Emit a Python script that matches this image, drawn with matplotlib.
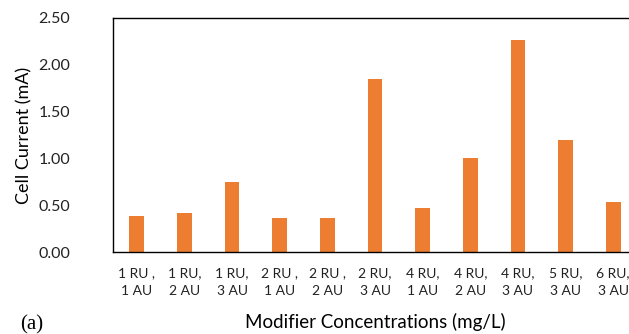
import numpy as np
import matplotlib.pyplot as plt

labels = ["1 RU ,\n1 AU", "1 RU,\n2 AU", "1 RU,\n3 AU", "2 RU ,\n1 AU", "2 RU ,\n2 AU",
          "2 RU,\n3 AU", "4 RU,\n1 AU", "4 RU,\n2 AU", "4 RU,\n3 AU", "5 RU,\n3 AU",
          "6 RU,\n3 AU"]
current = [0.38, 0.42, 0.75, 0.36, 0.36, 1.85, 0.47, 1.00, 2.26, 1.20, 0.53]
yticks = [0.0, 0.5, 1.0, 1.5, 2.0, 2.5]

plt.rcParams['font.family'] = ['Lato', 'DejaVu Sans']

fig = plt.figure(figsize=(6.29, 3.34), dpi=100)
ax = fig.add_axes([113 / 629, 1 - 252 / 334, (637 - 113) / 629, (252 - 18) / 334])

x = np.arange(len(labels))
ax.bar(x, current, width=0.31, color='#ED7D31')

ax.set_xlim(-0.5, len(labels) - 0.5)
ax.set_ylim(0, 2.5)
ax.set_yticks(yticks)
ax.set_yticklabels(["%.2f" % v for v in yticks], fontsize=11.5, color='#222222')
ax.set_xticks(x)
ax.set_xticklabels(labels, fontsize=10, color='#222222', linespacing=1.6)
ax.tick_params(axis='y', length=0, pad=31)
ax.tick_params(axis='x', length=0, pad=11)

for s in ax.spines.values():
    s.set_color('black')
    s.set_linewidth(1.0)

ax.set_ylabel("Cell Current (mA)", fontsize=13)
ax.yaxis.set_label_coords((24 - 113) / 524, 0.5)
ax.yaxis.label.set_va('center')
ax.set_xlabel("Modifier Concentrations (mg/L)", fontsize=13.5)
ax.xaxis.set_label_coords(0.5, -(322 - 252) / 234)
ax.xaxis.label.set_va('center')

fig.text(20 / 629, 1 - 325 / 334, "(a)", fontsize=15, family='Liberation Serif',
         va='center', ha='left')

fig.savefig("out.png", dpi=100)
